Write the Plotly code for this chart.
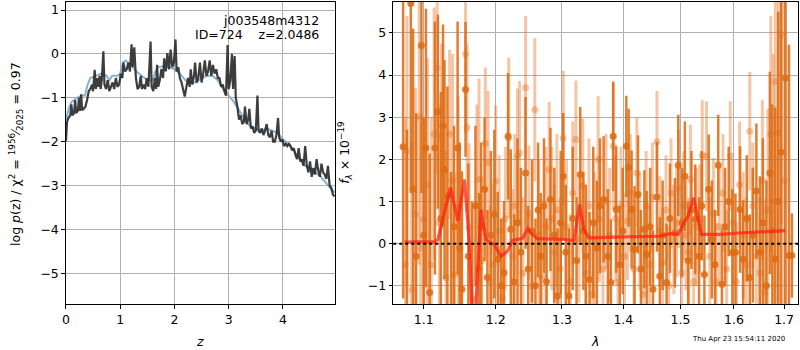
import plotly.graph_objects as go

# ---------------- left panel: log p(z) ----------------
z_black = [0.00,0.02,0.05,0.08,0.10,0.12,0.15,0.17,0.19,0.22,0.24,0.26,0.28,0.30,0.33,0.36,0.39,0.42,0.45,0.48,
           0.50,0.53,0.55,0.58,0.60,0.62,0.64,0.66,0.69,0.71,0.74,0.77,0.80,0.83,0.86,0.89,0.92,0.95,0.98,1.01,
           1.04,1.06,1.09,1.12,1.15,1.18,1.21,1.23,1.26,1.29,1.32,1.35,1.38,1.40,1.43,1.46,1.49,1.52,1.56,1.58,
           1.61,1.64,1.66,1.68,1.70,1.73,1.76,1.79,1.81,1.84,1.87,1.90,1.93,1.96,1.99,2.02,2.04,2.07,2.10,2.13,
           2.16,2.19,2.22,2.25,2.28,2.30,2.33,2.36,2.38,2.41,2.44,2.47,2.50,2.53,2.56,2.59,2.62,2.65,2.68,2.71,
           2.74,2.77,2.80,2.83,2.86,2.89,2.92,2.95,2.98,3.00,3.03,3.06,3.08,3.11,3.13,3.16,3.19,3.22,3.25,3.28,
           3.30,3.33,3.36,3.38,3.41,3.44,3.47,3.50,3.53,3.55,3.58,3.61,3.64,3.67,3.70,3.73,3.76,3.79,3.82,3.85,
           3.88,3.91,3.93,3.96,3.99,4.02,4.05,4.08,4.11,4.14,4.17,4.20,4.23,4.26,4.29,4.32,4.35,4.38,4.41,4.44,
           4.47,4.50,4.53,4.56,4.59,4.62,4.65,4.68,4.71,4.74,4.77,4.80,4.83,4.86,4.89,4.92,4.95]
logp_black = [-2.00,-1.55,-1.45,-1.40,-1.15,-1.40,-1.35,-1.05,-1.35,-1.30,-1.00,-1.30,-0.92,-1.28,-1.25,-1.20,-1.05,-0.85,-0.80,-0.70,
              -0.85,-0.36,-0.80,-0.55,-0.75,-0.50,-0.80,-0.60,0.06,-0.70,-0.80,-0.60,-0.85,-0.75,-0.65,-0.80,-0.55,-0.75,-0.70,-0.45,
              -0.55,-0.20,-0.40,-0.35,-0.20,-0.40,0.22,-0.30,0.15,-0.55,-0.80,-0.75,-0.50,-0.80,-0.70,-0.80,-0.55,-0.75,0.28,-0.75,
              -0.85,-0.55,-0.80,-0.25,-0.75,-0.60,-0.35,-0.55,-0.10,-0.40,0.02,-0.35,0.10,-0.30,-0.20,0.33,-0.40,-0.30,-0.55,-0.65,
              -0.80,-0.97,-0.75,-0.55,-0.75,-0.35,-0.70,-0.50,-0.20,-0.65,-0.55,-0.20,-0.65,-0.45,-0.15,-0.50,-0.40,-0.15,-0.50,-0.25,
              -0.45,-0.35,-0.55,-0.55,-0.75,-0.70,-0.85,-0.95,0.20,-0.80,-0.60,0.00,-0.80,-0.05,-1.00,-1.20,-1.50,-1.40,-1.60,-1.55,
              -1.20,-1.60,-1.50,-1.25,-1.70,-1.65,-1.80,-1.75,-0.95,-1.75,-1.80,-1.70,-1.85,-1.75,-1.60,-1.85,-1.90,-1.75,-2.00,-2.00,
              -1.85,-1.46,-1.90,-2.00,-1.95,-2.10,-2.05,-2.10,-2.05,-2.10,-2.20,-2.15,-2.30,-2.40,-2.15,-2.45,-2.40,-2.55,-2.10,-2.55,
              -2.70,-2.45,-2.80,-2.60,-2.75,-2.40,-2.65,-2.80,-2.50,-2.70,-2.75,-2.85,-2.55,-3.00,-3.05,-3.20,-3.25]

z_blue = [0.00,0.05,0.10,0.20,0.30,0.35,0.40,0.45,0.55,0.65,0.75,0.80,0.85,0.95,1.00,1.05,1.10,1.20,1.30,1.40,
          1.50,1.60,1.65,1.70,1.80,1.90,2.00,2.10,2.20,2.30,2.40,2.50,2.60,2.70,2.80,2.90,3.00,3.10,3.20,3.30,
          3.40,3.50,3.60,3.70,3.80,3.90,4.00,4.10,4.20,4.30,4.40,4.50,4.60,4.70,4.80,4.90,4.96]
logp_blue = [-1.50,-1.25,-1.10,-1.00,-0.95,-0.95,-0.70,-0.55,-0.50,-0.45,-0.50,-0.60,-0.50,-0.50,-0.45,-0.20,-0.15,-0.25,-0.40,-0.50,
             -0.60,-0.60,-0.40,-0.30,-0.28,-0.30,-0.35,-0.45,-0.60,-0.65,-0.65,-0.55,-0.50,-0.50,-0.60,-0.80,-0.95,-1.10,-1.30,-1.50,
             -1.65,-1.70,-1.75,-1.70,-1.75,-1.80,-1.95,-2.05,-2.20,-2.40,-2.55,-2.60,-2.70,-2.80,-2.95,-3.10,-3.15]

# ---------------- right panel: spectrum ----------------
lam_a = [1.073,1.078,1.083,1.086,1.090,1.097,1.100,1.103,1.108,1.115,1.119,1.123,1.126,1.128,1.132,1.137,1.141,1.146,1.149,1.152,
         1.157,1.161,1.166,1.171,1.176,1.179,1.184,1.188,1.193,1.198,1.203,1.208,1.212,1.218,1.222,1.227,1.232,1.237,1.244,1.248,
         1.254,1.259,1.263,1.267,1.272,1.276,1.282,1.288,1.293,1.298,1.302,1.306,1.311,1.317,1.323,1.329,1.334,1.338,1.344,1.350,
         1.356,1.361,1.367,1.374,1.379,1.383,1.388,1.394,1.399,1.405,1.409,1.414,1.419,1.425,1.430,1.436,1.440,1.446,1.451,1.458,
         1.463,1.468,1.475,1.481,1.490,1.496,1.503,1.508,1.514,1.520,1.527,1.534,1.539,1.544,1.552,1.558,1.564,1.570,1.577,1.583,
         1.590,1.597,1.603,1.612,1.618,1.625,1.631,1.637,1.644,1.651,1.657,1.664,1.671,1.676,1.682,1.688,1.694,1.703,1.710,1.716]
flux_a = [2.30,-1.80,5.70,1.30,-0.30,4.70,0.20,2.27,-1.16,2.27,3.13,0.60,2.80,1.76,1.13,-1.80,0.40,2.27,-0.10,-1.08,
          3.66,-0.30,-1.50,0.90,-0.60,0.40,1.29,-0.80,0.20,0.70,-0.37,-1.00,-0.69,2.55,0.34,-0.90,0.50,-0.20,1.68,-0.60,
          0.30,-1.00,0.80,-0.30,0.90,-0.90,1.05,0.20,-1.24,0.50,1.60,-0.20,-1.24,0.60,-0.40,1.64,0.30,-0.30,-0.85,0.50,
          -0.10,0.90,1.05,-0.30,-0.92,2.55,0.81,-0.50,0.30,2.31,1.80,0.81,-0.13,1.17,-0.60,0.34,-0.25,0.40,-1.08,1.11,
          -0.77,0.20,-0.92,0.60,0.26,1.86,0.50,1.60,-0.40,0.80,0.58,-0.30,0.90,-0.73,1.29,0.10,-0.50,1.86,-0.96,0.40,
          1.00,-0.21,-0.21,0.81,-0.37,0.60,-0.80,0.20,1.25,-0.20,0.50,-1.00,1.68,0.30,-0.37,1.00,2.17,3.93,-0.28,-0.28]
err_a = [3.6,4.5,4.5,3.8,3.4,3.5,2.8,3.3,3.3,3.0,2.3,3.0,2.4,2.6,2.6,3.5,2.4,3.0,2.5,2.8,
         1.6,2.2,2.5,1.9,1.8,2.0,1.7,1.6,2.0,2.0,1.6,1.6,1.7,1.5,1.9,1.6,2.0,2.0,1.8,1.5,
         1.7,1.6,1.6,1.5,1.6,1.5,1.7,1.6,1.6,1.7,1.5,1.6,1.6,1.7,1.5,1.6,1.4,1.7,1.6,1.8,
         1.6,1.6,1.5,1.6,1.5,1.3,1.5,1.4,1.5,1.2,1.4,1.4,1.5,1.4,1.4,1.4,1.5,1.4,1.4,1.3,
         1.4,1.3,1.4,1.3,1.3,1.2,1.3,1.3,1.4,1.4,1.3,1.4,1.3,1.4,1.3,1.4,1.3,1.2,1.3,1.4,
         1.3,1.5,1.4,1.5,1.4,1.5,1.5,1.6,1.6,1.8,2.0,2.5,2.4,3.0,3.6,4.5,5.0,5.5,5.0,1.0]

lam_b = [1.076,1.078,1.084,1.089,1.094,1.096,1.100,1.105,1.110,1.114,1.118,1.121,1.124,1.130,1.135,1.139,1.142,1.147,1.151,1.157,
         1.159,1.162,1.167,1.173,1.176,1.180,1.185,1.189,1.192,1.196,1.200,1.205,1.210,1.214,1.219,1.225,1.228,1.232,1.235,1.240,
         1.244,1.249,1.253,1.258,1.264,1.269,1.275,1.280,1.284,1.288,1.292,1.297,1.302,1.307,1.313,1.317,1.322,1.327,1.333,1.338,
         1.343,1.348,1.352,1.358,1.360,1.366,1.371,1.377,1.383,1.387,1.391,1.396,1.402,1.407,1.412,1.418,1.423,1.428,1.434,1.439,
         1.445,1.450,1.458,1.463,1.468,1.474,1.479,1.483,1.488,1.493,1.497,1.502,1.506,1.510,1.515,1.518,1.524,1.529,1.535,1.540,
         1.548,1.554,1.561,1.566,1.572,1.579,1.586,1.593,1.598,1.605,1.611,1.618,1.624,1.631,1.637,1.644,1.651,1.656,1.661,1.667,
         1.673,1.678,1.682,1.688,1.694,1.700]
flux_b = [-0.50,2.20,-1.10,0.70,3.00,-0.10,0.58,1.40,-0.50,2.60,4.17,0.50,2.55,-0.80,2.60,1.50,-0.73,0.90,-1.90,4.50,
          2.75,0.38,-1.30,0.90,1.52,-0.40,2.38,1.92,-0.90,-0.49,1.48,0.30,-1.30,0.60,2.51,-0.30,0.90,2.08,2.16,-0.70,
          3.70,0.73,-1.00,3.18,0.20,-0.80,0.40,1.76,0.60,-0.21,0.80,-0.60,2.50,0.40,-0.90,1.20,2.47,0.10,1.37,-0.70,
          0.90,-1.20,0.10,2.00,0.58,-0.60,1.00,0.20,2.31,0.60,-0.92,0.90,-0.30,0.54,1.20,-0.60,1.68,0.30,-1.20,0.90,
          -0.50,1.10,2.42,0.30,-0.45,0.80,-1.00,1.20,0.10,0.50,1.30,-0.69,0.90,0.20,-0.21,1.52,-0.90,0.40,0.58,2.10,
          2.08,-0.30,0.73,-0.90,0.40,1.20,-0.60,2.08,0.50,-0.90,1.40,0.20,-0.50,2.67,0.90,-0.30,-0.69,1.50,-1.16,0.80,
          2.60,1.00,3.85,2.63,4.96,1.50]
err_b = [3.5,3.2,3.5,3.0,3.5,3.0,2.4,3.0,3.5,3.0,2.5,2.8,2.2,3.0,2.0,3.0,2.4,2.6,3.0,1.9,
         2.0,2.0,2.2,2.4,2.4,2.0,1.8,1.7,1.8,1.9,1.8,1.8,1.9,1.7,1.9,1.6,1.7,1.6,1.7,1.8,
         1.7,1.6,1.7,1.7,1.8,1.7,1.9,1.6,1.7,1.6,1.8,1.7,1.6,1.6,1.6,1.7,1.4,1.5,1.6,1.5,
         1.6,1.5,1.6,1.5,1.5,1.5,1.6,1.6,1.5,1.5,1.5,1.4,1.5,1.4,1.4,1.5,1.3,1.4,1.4,1.3,
         1.4,1.3,1.2,1.3,1.3,1.3,1.4,1.3,1.3,1.3,1.4,1.3,1.3,1.3,1.3,1.3,1.4,1.4,1.3,1.3,
         1.3,1.4,1.3,1.4,1.4,1.4,1.4,1.3,1.5,1.4,1.5,1.5,1.6,1.4,1.5,1.6,1.8,1.9,2.2,2.4,
         2.8,3.5,3.5,4.0,4.5,5.0]

lam_model = [1.0752,1.1146,1.1191,1.1362,1.1463,1.1554,1.1623,1.1671,1.1695,1.1718,1.1788,1.1859,1.1978,1.2075,1.2172,1.2245,
             1.2393,1.2475,1.2517,1.2618,1.3058,1.3189,1.3279,1.3348,1.3429,1.4030,1.4632,1.4808,1.4957,1.5078,1.5138,1.5241,
             1.5320,1.5383,1.5725,1.6177,1.7025]
flux_model = [0.04,0.05,0.10,1.33,0.54,1.52,0.06,-1.40,-3.00,-1.40,0.81,0.10,-0.02,-0.30,-0.18,0.08,
              0.13,0.36,0.26,0.12,0.10,0.07,0.93,0.34,0.14,0.16,0.18,0.24,0.22,0.53,0.65,1.09,
              0.58,0.22,0.22,0.26,0.31]

x_ticks_left = [0, 1, 2, 3, 4]
y_ticks_left = [-5, -4, -3, -2, -1, 0, 1]
x_ticks_right = [1.1, 1.2, 1.3, 1.4, 1.5, 1.6, 1.7]
y_ticks_right = [-1, 0, 1, 2, 3, 4, 5]

DARK = "rgba(222,108,20,0.88)"
LIGHT = "rgba(228,120,40,0.42)"

fig = go.Figure()
fig.add_trace(go.Scatter(x=z_blue, y=logp_blue, mode="lines",
                         line=dict(color="rgba(120,170,208,0.9)", width=2), xaxis="x", yaxis="y", showlegend=False))
fig.add_trace(go.Scatter(x=z_black, y=logp_black, mode="lines",
                         line=dict(color="rgba(45,45,45,0.92)", width=2.2), xaxis="x", yaxis="y", showlegend=False))

fig.add_trace(go.Scatter(x=lam_b, y=flux_b, mode="markers",
                         marker=dict(color=LIGHT, size=7, line=dict(width=0)),
                         error_y=dict(type="data", array=err_b, color=LIGHT, thickness=3, width=0),
                         xaxis="x2", yaxis="y2", showlegend=False))
fig.add_trace(go.Scatter(x=lam_a, y=flux_a, mode="markers",
                         marker=dict(color=DARK, size=7, line=dict(width=0)),
                         error_y=dict(type="data", array=err_a, color=DARK, thickness=2.5, width=0),
                         xaxis="x2", yaxis="y2", showlegend=False))
fig.add_trace(go.Scatter(x=lam_model, y=flux_model, mode="lines",
                         line=dict(color="rgba(255,30,20,0.72)", width=3.2), xaxis="x2", yaxis="y2", showlegend=False))

fig.add_shape(type="line", xref="x2 domain", yref="y2", x0=0, x1=1, y0=0, y1=0,
              line=dict(color="black", width=2, dash="dot"), layer="above")

font = dict(family="DejaVu Sans", size=12.5, color="black")
ax_common = dict(showgrid=True, gridcolor="#b0b0b0", gridwidth=1, zeroline=False,
                 showline=True, linecolor="black", linewidth=1.2, mirror=True,
                 ticks="outside", ticklen=3.5, tickcolor="black", tickfont=font)

fig.update_layout(
    width=800, height=350, margin=dict(l=0, r=0, t=0, b=0),
    paper_bgcolor="white", plot_bgcolor="white", font=font,
    xaxis=dict(domain=[0.0779, 0.4166], range=[0, 4.963], tickvals=x_ticks_left, anchor="y", **ax_common),
    yaxis=dict(domain=[1 - 304 / 350, 1 - 1.7 / 350], range=[-5.70, 1.19], tickvals=y_ticks_left,
               anchor="x", **ax_common),
    xaxis2=dict(domain=[391.7 / 800, 799.3 / 800], type="log", range=[0.02543, 0.23790],
                tickvals=x_ticks_right, ticktext=[str(t) for t in x_ticks_right], anchor="y2", **ax_common),
    yaxis2=dict(domain=[1 - 304 / 350, 1 - 1.7 / 350], range=[-1.43, 5.74], tickvals=y_ticks_right,
                anchor="x2", **ax_common),
)

def ann(text, x, y, **kw):
    d = dict(text=text, x=x / 800, y=1 - y / 350, xref="paper", yref="paper", showarrow=False, font=font)
    d.update(kw)
    fig.add_annotation(**d)

ann("j003548m4312", 318.5, 20, xanchor="right", yanchor="middle")
ann("ID=724\u00a0\u00a0\u00a0\u00a0z=2.0486", 318.5, 34.5, xanchor="right", yanchor="middle")
ann("<i>z</i>", 197, 341, xanchor="center", yanchor="middle")
ann("<i>λ</i>", 595, 341, xanchor="center", yanchor="middle")
ann("log <i>p</i>(z) / χ<sup>2</sup> = <sup>1956</sup>⁄<sub>2025</sub> = 0.97", 12, 154,
    textangle=-90, xanchor="center", yanchor="middle")
ann("<i>f</i><sub><i>λ</i></sub> × 10<sup>−19</sup>", 343, 153, textangle=-90, xanchor="center", yanchor="middle")
ann("Thu Apr 23 15:54:11 2020", 788, 339, xanchor="right", yanchor="middle",
    font=dict(family="DejaVu Sans", size=7, color="black"))

fig.write_html("out.html", config={"displayModeBar": False},
               post_script="document.body.style.margin='0';document.body.style.padding='0';")
